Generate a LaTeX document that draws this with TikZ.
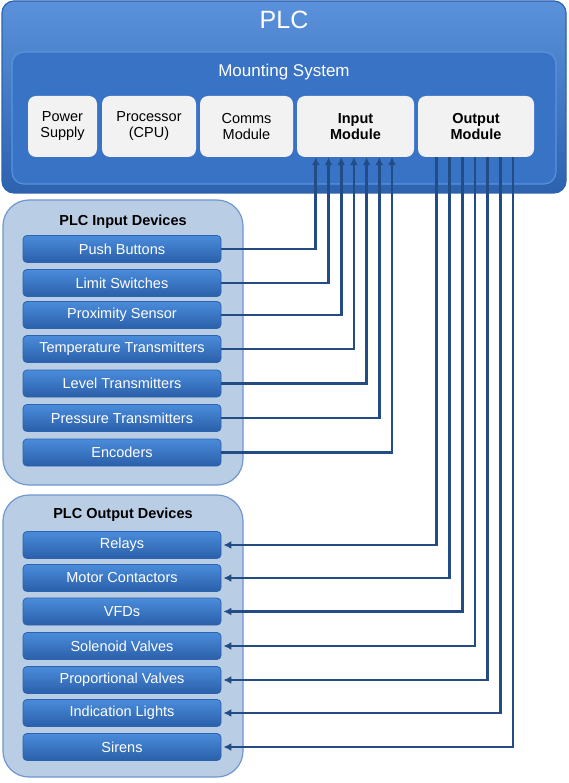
\documentclass[tikz,border=0pt]{standalone}
\usepackage{fontspec}
\setmainfont{Liberation Sans}
\usepackage{xcolor}
\usepackage{tikz}
\usetikzlibrary{calc,arrows.meta}
\definecolor{plcblue}{HTML}{3D7ED4}
\definecolor{plcdark}{HTML}{2C62AE}
\definecolor{mountblue}{HTML}{3873C6}
\definecolor{mountrim}{HTML}{5A92DA}
\definecolor{modgrey}{HTML}{F2F2F2}
\definecolor{grpfill}{HTML}{B9CDE5}
\definecolor{grpline}{HTML}{6F97D0}
\definecolor{devtop}{HTML}{4A8CDB}
\definecolor{devbot}{HTML}{2B5FA9}
\definecolor{wireblue}{HTML}{244C84}
\tikzset{
  plcbox/.style={draw=plcdark, line width=1.2pt, rounded corners=12pt, top color=plcblue!85!white, bottom color=plcdark},
  mountbox/.style={draw=mountrim, line width=1.2pt, rounded corners=12pt, fill=mountblue},
  module/.style={fill=modgrey, rounded corners=8pt, align=center, text=black, font=\fontsize{14.5}{16}\selectfont},
  group/.style={draw=grpline, line width=1.2pt, rounded corners=26pt, fill=grpfill},
  grptitle/.style={text=black, font=\fontsize{14.5}{16}\selectfont\bfseries},
  device/.style={draw=plcdark, line width=0.8pt, rounded corners=4pt, top color=devtop, bottom color=devbot, minimum width=198pt, minimum height=27pt, inner sep=0pt, text=white, font=\fontsize{14.5}{16}\selectfont},
  wire/.style={draw=wireblue, line width=2.7pt, line join=miter},
  tip/.style={-{Latex[length=8pt,width=8pt]}},
}
\begin{document}
\begin{tikzpicture}[x=1pt,y=-1pt]
  \useasboundingbox (0,0) rectangle (569,783);
  % PLC rack
  \node[plcbox, minimum width=564pt, minimum height=192pt] (plc) at (284,97) {};
  \node[text=white, font=\fontsize{25}{28}\selectfont] (plctitle) at (284,20) {PLC};
  \node[mountbox, minimum width=544pt, minimum height=132pt] (mount) at (284,118) {};
  \node[text=white, font=\fontsize{17}{19}\selectfont] (mounttitle) at (284,72) {Mounting System};
  \foreach \X/\x/\w/\t in {psu/62.5/69/Power\\Supply, cpu/149/94/Processor\\(CPU), comms/246.5/93/Comms\\Module}
    \node[module, minimum width=\w pt, minimum height=61pt] (\X) at (\x,126.5) {\t};
  \node[module, minimum width=117pt, minimum height=61pt, font=\fontsize{14.5}{16}\selectfont\bfseries] (inmod) at (355.5,126.5) {Input\\Module};
  \node[module, minimum width=116pt, minimum height=61pt, font=\fontsize{14.5}{16}\selectfont\bfseries] (outmod) at (476,126.5) {Output\\Module};

  % device groups
  \node[group, minimum width=240pt, minimum height=285pt] (ingrp) at (123,342.5) {};
  \node[grptitle] (intitle) at (123,222) {PLC Input Devices};
  \node[group, minimum width=240pt, minimum height=282pt] (outgrp) at (123,636) {};
  \node[grptitle] (outtitle) at (123,515) {PLC Output Devices};

  \foreach \t/\y [count=\i] in {Push Buttons/249, Limit Switches/283, Proximity Sensor/315,
      Temperature Transmitters/349, Level Transmitters/383.5, Pressure Transmitters/418, Encoders/452.5}
    \node[device] (in\i) at (122,\y) {\t};
  \foreach \t/\y [count=\i] in {Relays/545, Motor Contactors/578, VFDs/611.5, Solenoid Valves/646,
      Proportional Valves/680, Indication Lights/713, Sirens/747}
    \node[device] (out\i) at (122,\y) {\t};

  % wiring
  \foreach \i in {1,...,7} {
    \draw[wire,tip] (in\i.east) -| ([xshift={19+12.7*(\i-1)}]inmod.south west);
    \draw[wire,tip,shorten >=2pt] ([xshift={19+12.7*(\i-1)}]outmod.south west) |- (out\i.east);
  }
\end{tikzpicture}
\end{document}
